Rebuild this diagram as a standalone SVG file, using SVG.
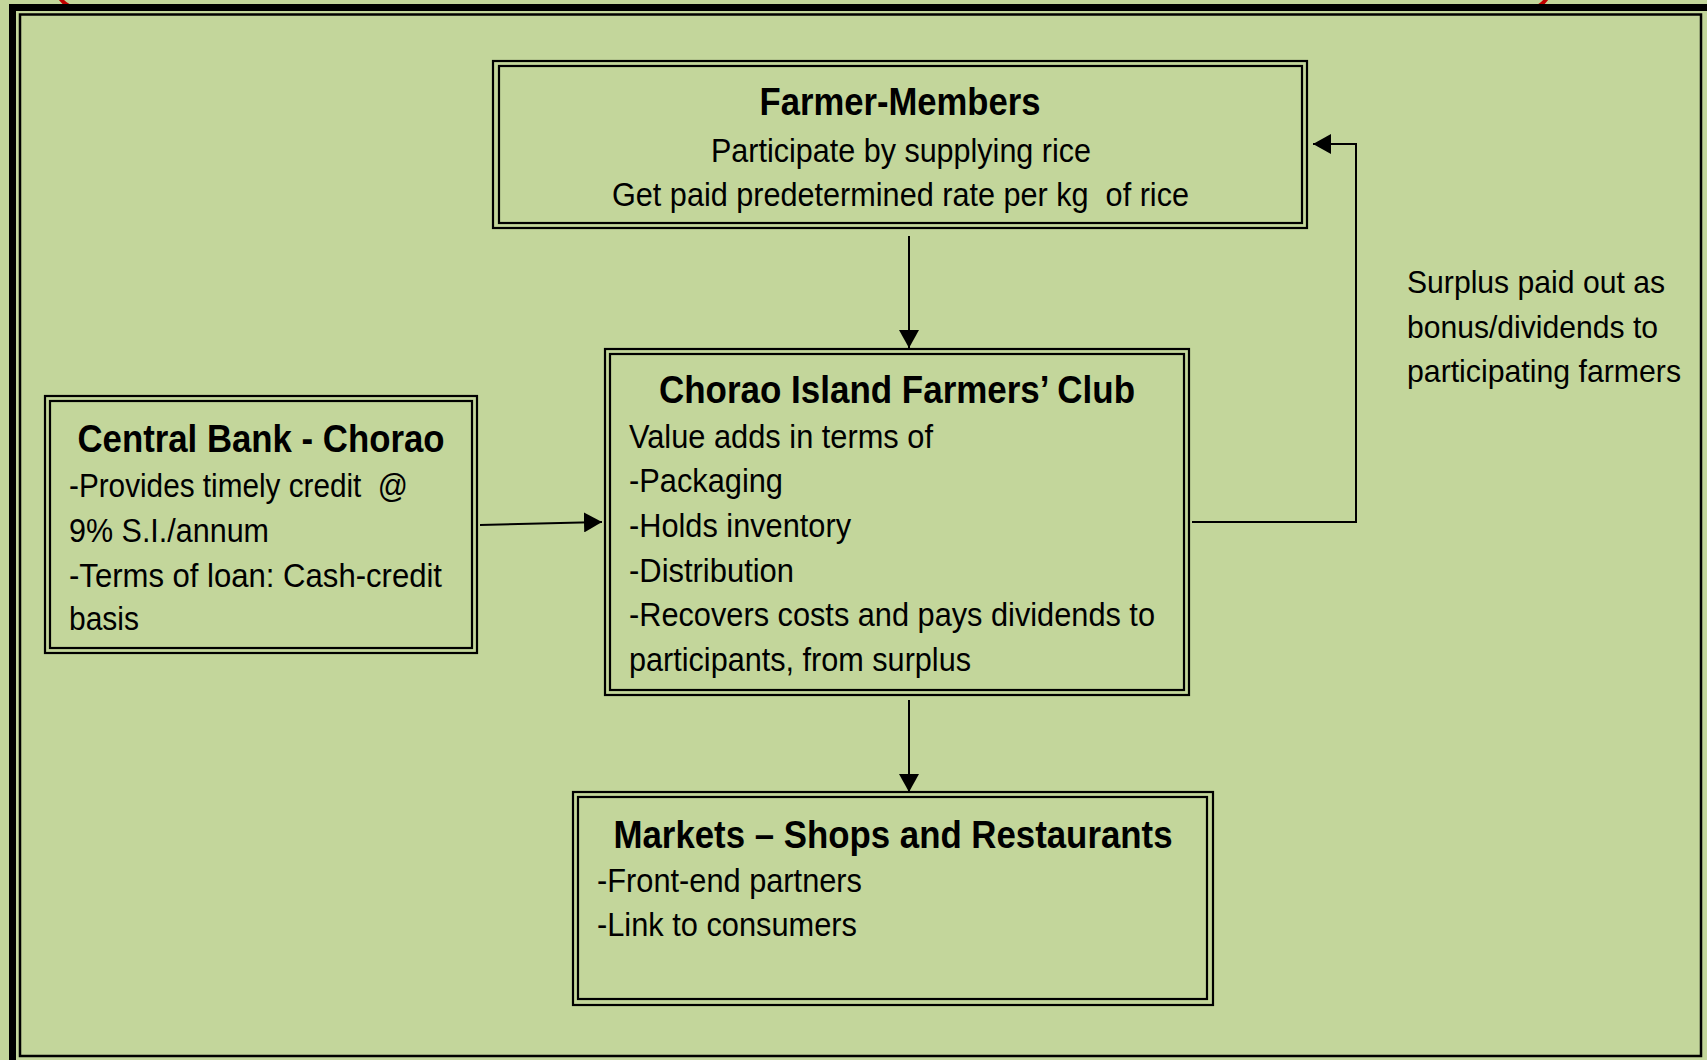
<svg xmlns="http://www.w3.org/2000/svg" width="1707" height="1060" viewBox="0 0 1707 1060">
<defs>
<style>
.bg{fill:#C3D69B}
.bo{fill:none;stroke:#000;stroke-width:2.2}
.t{font-family:"Liberation Sans",Arial,sans-serif;fill:#000}
.h{font-size:39px;font-weight:bold;text-anchor:middle}
.b{font-size:34px}
.s{font-size:32px}
.c{fill:none;stroke:#000;stroke-width:2}
.red{fill:none;stroke:#C00000;stroke-width:4}
</style>
<marker id="ah" viewBox="0 0 18 20" refX="18" refY="10" markerWidth="18" markerHeight="20" markerUnits="userSpaceOnUse" orient="auto">
<path d="M0,0 L18,10 L0,20 z" fill="#000"/>
</marker>
</defs>
<rect class="bg" x="0" y="0" width="1707" height="1060"/>
<g id="frame">
<path class="red" d="M60,-2 Q63,3 69,6"/>
<path class="red" d="M1547,-2 Q1544,3 1539,6"/>
<rect x="12.5" y="7.5" width="1700" height="1062" fill="none" stroke="#000" stroke-width="7"/>
<rect x="20" y="14.5" width="1681" height="1041.5" fill="none" stroke="#000" stroke-width="2.5"/>
</g>
<g id="connectors">
<path class="c" d="M909,236 L909,348" marker-end="url(#ah)"/>
<path class="c" d="M909,700 L909,792" marker-end="url(#ah)"/>
<path class="c" d="M480,525 L602,522" marker-end="url(#ah)"/>
<path class="c" d="M1192,522 L1356,522 L1356,144 L1313,144" marker-end="url(#ah)"/>
</g>
<g id="farmer-members">
<rect class="bo" x="493" y="61" width="814" height="167"/>
<rect class="bo" x="499" y="66" width="803" height="157"/>
<text class="t h" x="900" y="115" textLength="281" lengthAdjust="spacingAndGlyphs">Farmer-Members</text>
<text class="t b" x="711" y="162" textLength="380" lengthAdjust="spacingAndGlyphs">Participate by supplying rice</text>
<text class="t b" x="612" y="206" textLength="577" lengthAdjust="spacingAndGlyphs" xml:space="preserve">Get paid predetermined rate per kg  of rice</text>
</g>
<g id="central-bank">
<rect class="bo" x="45" y="396" width="432" height="257"/>
<rect class="bo" x="50" y="401" width="422" height="247"/>
<text class="t h" x="261" y="452" textLength="367" lengthAdjust="spacingAndGlyphs">Central Bank - Chorao</text>
<text class="t b" x="69" y="497" textLength="339" lengthAdjust="spacingAndGlyphs" xml:space="preserve">-Provides timely credit  @</text>
<text class="t b" x="69" y="542" textLength="200" lengthAdjust="spacingAndGlyphs">9% S.I./annum</text>
<text class="t b" x="69" y="587" textLength="373" lengthAdjust="spacingAndGlyphs">-Terms of loan: Cash-credit</text>
<text class="t b" x="69" y="630" textLength="70" lengthAdjust="spacingAndGlyphs">basis</text>
</g>
<g id="farmers-club">
<rect class="bo" x="605" y="349" width="584" height="346"/>
<rect class="bo" x="610" y="354" width="574" height="336"/>
<text class="t h" x="897" y="403" textLength="476" lengthAdjust="spacingAndGlyphs">Chorao Island Farmers’ Club</text>
<text class="t b" x="629" y="448" textLength="304" lengthAdjust="spacingAndGlyphs">Value adds in terms of</text>
<text class="t b" x="629" y="492" textLength="154" lengthAdjust="spacingAndGlyphs">-Packaging</text>
<text class="t b" x="629" y="537" textLength="222" lengthAdjust="spacingAndGlyphs">-Holds inventory</text>
<text class="t b" x="629" y="582" textLength="165" lengthAdjust="spacingAndGlyphs">-Distribution</text>
<text class="t b" x="629" y="626" textLength="526" lengthAdjust="spacingAndGlyphs">-Recovers costs and pays dividends to</text>
<text class="t b" x="629" y="671" textLength="342" lengthAdjust="spacingAndGlyphs">participants, from surplus</text>
</g>
<g id="markets">
<rect class="bo" x="573" y="792" width="640" height="213"/>
<rect class="bo" x="578" y="797" width="629" height="202"/>
<text class="t h" x="893" y="848" textLength="559" lengthAdjust="spacingAndGlyphs">Markets – Shops and Restaurants</text>
<text class="t b" x="597" y="892" textLength="265" lengthAdjust="spacingAndGlyphs">-Front-end partners</text>
<text class="t b" x="597" y="936" textLength="260" lengthAdjust="spacingAndGlyphs">-Link to consumers</text>
</g>
<g id="surplus-label">
<text class="t s" x="1407" y="293" textLength="258" lengthAdjust="spacingAndGlyphs">Surplus paid out as</text>
<text class="t s" x="1407" y="338" textLength="251" lengthAdjust="spacingAndGlyphs">bonus/dividends to</text>
<text class="t s" x="1407" y="382" textLength="274" lengthAdjust="spacingAndGlyphs">participating farmers</text>
</g>
</svg>
